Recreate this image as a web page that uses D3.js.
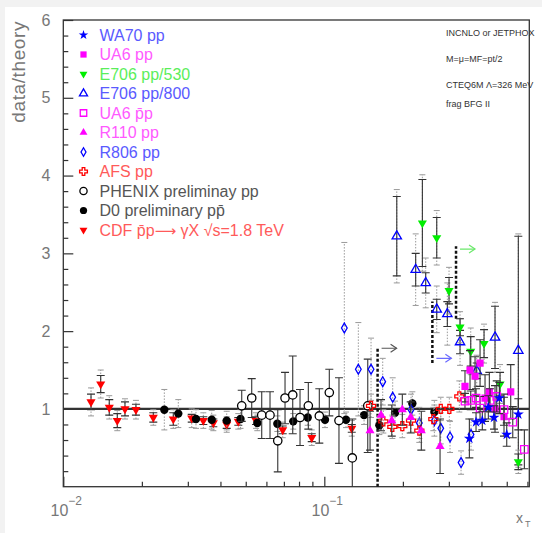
<!DOCTYPE html>
<html>
<head>
<meta charset="utf-8">
<script src="https://cdn.jsdelivr.net/npm/d3@7/dist/d3.min.js"></script>
<style>
  html, body { margin: 0; padding: 0; background: #f2f2f2; }
  svg { display: block; }
  text { font-family: "Liberation Sans", Arial, sans-serif; }
</style>
</head>
<body>
<svg id="chart" width="542" height="533"></svg>
<script>
// ---- data: data/theory ratio versus x_T ----
const wa70X = [0.3595, 0.3813, 0.4030, 0.4250, 0.4468, 0.4684, 0.4999, 0.5537];
const wa70Y = [0.62, 0.83, 0.85, 1.02, 0.89, 1.14, 0.67, 0.93];
const wa70Err = [0.25, 0.12, 0.12, 0.15, 0.15, 0.2, 0.15, 0.2];

const ua6X = [0.3459, 0.3616, 0.3780, 0.3951, 0.4128, 0.4288, 0.4508, 0.4880, 0.5178];
const ua6Y = [1.29, 1.50, 1.42, 1.59, 1.14, 1.22, 1.00, 0.90, 1.22];
const ua6Err = [0.2, 0.25, 0.25, 0.3, 0.3, 0.25, 0.3, 0.25, 0.35];

const e530X = [0.2375, 0.2696, 0.3005, 0.3311, 0.3639, 0.4092, 0.4713, 0.5537];
const e530Y = [3.39, 3.20, 2.52, 2.05, 1.74, 1.84, 1.32, 0.32];
const e530Stat = [0.56, 0.26, 0.17, 0.11, 0.19, 0.18, 0.15, 0.1];
const e530Sys = [0.62, 0.35, 0.3, 0.2, 0.3, 0.25, 0.25, 0.15];

const e800X = [0.1895, 0.2239, 0.2446, 0.2696, 0.2960, 0.3311, 0.3836, 0.4508, 0.5537];
const e800Y = [3.22, 2.79, 2.62, 2.28, 2.22, 1.86, 1.49, 1.92, 1.75];
const e800Stat = [0.51, 0.21, 0.13, 0.13, 0.16, 0.15, 0.1, 0.4, 1.47];
const e800Sys = [0.6, 0.46, 0.32, 0.3, 0.4, 0.3, 0.2, 0.45, 1.5];

const ua6bX = [0.3459, 0.3639, 0.3813, 0.3951, 0.4315, 0.4577, 0.4880, 0.5272, 0.5840];
const ua6bY = [1.10, 1.11, 1.14, 1.01, 1.11, 1.16, 0.99, 0.83, 0.48];
const ua6bErr = [0.1, 0.12, 0.12, 0.15, 0.15, 0.2, 0.2, 0.2, 0.25];

const r110X = [0.1497, 0.1649, 0.1813, 0.1990, 0.2143, 0.2353, 0.2776];
const r110Y = [0.72, 0.92, 0.85, 0.99, 0.89, 0.72, 0.52];
const r110Err = [0.25, 0.2, 0.2, 0.2, 0.2, 0.25, 0.35];

const r806X = [0.1193, 0.1350, 0.1510, 0.1674, 0.1828, 0.2149, 0.2312, 0.2640, 0.2793, 0.3031, 0.3341, 0.3648];
const r806Y = [2.04, 1.51, 1.51, 1.35, 1.15, 0.99, 0.82, 0.85, 0.75, 0.64, 0.31, 0.67];
const r806Err = [1.1, 0.6, 0.4, 0.3, 0.25, 0.2, 0.2, 0.2, 0.2, 0.2, 0.15, 0.2];

const afsX = [0.1510, 0.1683, 0.1822, 0.1990, 0.2149, 0.2312, 0.2616, 0.2793, 0.3013, 0.3290];
const afsY = [1.04, 0.84, 0.77, 0.78, 0.85, 0.72, 0.87, 1.00, 1.00, 1.16];
const afsErr = [0.15, 0.15, 0.15, 0.15, 0.15, 0.15, 0.15, 0.15, 0.15, 0.2];

const phenixX = [0.04826, 0.05271, 0.05757, 0.06194, 0.06632, 0.07071, 0.07568, 0.08071, 0.08684, 0.09568, 0.1045, 0.1138, 0.1280, 0.1467];
const phenixY = [1.04, 1.14, 0.92, 0.92, 0.59, 1.14, 1.18, 0.89, 1.04, 0.91, 1.21, 0.85, 0.37, 1.04];
const phenixErr = [0.2, 0.25, 0.3, 0.3, 0.4, 0.33, 0.5, 0.36, 0.3, 0.35, 0.3, 0.55, 0.5, 0.6];

const d0X = [0.02438, 0.02758, 0.03224, 0.03704, 0.04227, 0.04775, 0.05537, 0.06607, 0.07604, 0.08638, 0.1006, 0.1211, 0.1420, 0.1625, 0.1866, 0.2174, 0.2640];
const d0Y = [0.99, 0.94, 0.87, 0.86, 0.85, 0.87, 0.82, 0.81, 0.84, 0.89, 0.86, 0.86, 0.92, 0.79, 0.95, 1.07, 0.96];
const d0Err = [0.26, 0.18, 0.12, 0.12, 0.12, 0.12, 0.1, 0.1, 0.1, 0.1, 0.1, 0.1, 0.12, 0.12, 0.15, 0.15, 0.15];

const cdfX = [0.01277, 0.01391, 0.0150, 0.0161, 0.01723, 0.01898, 0.02212, 0.02639, 0.03105, 0.03439, 0.03756, 0.04227, 0.04682, 0.05474, 0.06928, 0.0895, 0.1274];
const cdfY = [1.09, 1.32, 1.02, 0.85, 1.00, 0.99, 0.89, 0.87, 0.88, 0.85, 0.82, 0.80, 0.84, 0.85, 0.73, 0.63, 0.75];
const cdfStat = [0.1, 0.11, 0.1, 0.09, 0.09, 0.07, 0.06, 0.08, 0.05, 0.05, 0.05, 0.05, 0.05, 0.05, 0.05, 0.05, 0.05];
const cdfSys = [0.18, 0.18, 0.15, 0.13, 0.13, 0.12, 0.1, 0.12, 0.12, 0.1, 0.1, 0.1, 0.1, 0.1, 0.1, 0.1, 0.1];

// kinematic cut markers (x_T position, vertical extent, arrow height)
const cutX = [0.160, 0.2594, 0.3196];
const cutLow = [0, 1.59, 2.16];
const cutHigh = [1.78, 2.38, 3.09];
const cutArrowY = [1.78, 1.65, 3.055];

const legendLabels = ["WA70 pp", "UA6 pp", "E706 pp/530", "E706 pp/800", "UA6 p\u0304p",
  "R110 pp", "R806 pp", "AFS pp", "PHENIX preliminay pp", "D0 preliminary pp\u0304", "CDF p\u0304p"];
const cdfTail = " \u03b3X \u221as=1.8 TeV";
const infoLines = ["INCNLO or JETPHOX", "M=\u03bc=MF=pt/2", "CTEQ6M \u039b=326 MeV", "frag  BFG II"];
const yTicks = [1, 2, 3, 4, 5, 6];

// ---- layout ----
const svg = d3.select("#chart");
const L = 63.3, R = 529.3, T = 20, B = 486.7;
const x = d3.scaleLog().domain([0.01, 0.61]).range([L, R]);
const y = d3.scaleLinear().domain([0, 6]).range([B, T]);

svg.append("rect").attr("x", 5).attr("y", 7).attr("width", 537).attr("height", 526).attr("fill", "#fff");

svg.append("clipPath").attr("id", "plotclip")
  .append("rect").attr("x", L).attr("y", T).attr("width", R - L).attr("height", B - T);

// axes with inward ticks
const minorX = [];
for (let k = 2; k <= 9; k++) minorX.push(0.01 * k);
for (let k = 2; k <= 6; k++) minorX.push(0.1 * k);
svg.append("g").attr("transform", `translate(0,${B})`)
  .call(d3.axisBottom(x).tickValues(minorX).tickSize(-5).tickFormat(""))
  .call(g => g.select(".domain").remove());
svg.append("g").attr("transform", `translate(0,${B})`)
  .call(d3.axisBottom(x).tickValues([0.01, 0.1]).tickSize(-10).tickFormat(""))
  .call(g => g.select(".domain").remove());

const minorY = d3.range(0, 6.001, 0.2).filter(v => Math.abs(v - Math.round(v)) > 1e-6);
svg.append("g").attr("transform", `translate(${L},0)`)
  .call(d3.axisLeft(y).tickValues(minorY).tickSize(-5).tickFormat(""))
  .call(g => g.select(".domain").remove());
svg.append("g").attr("transform", `translate(${L},0)`)
  .call(d3.axisLeft(y).tickValues(yTicks).tickSize(-10).tickPadding(13).tickFormat(d3.format("d")))
  .call(g => g.select(".domain").remove())
  .call(g => g.selectAll("text").attr("font-size", 16).attr("fill", "#777")
    .attr("font-family", "Liberation Sans, Arial, sans-serif"));
svg.selectAll(".tick line").attr("stroke", "#333").attr("stroke-width", 1.2);

// frame
svg.append("rect").attr("x", L).attr("y", T).attr("width", R - L).attr("height", B - T)
  .attr("fill", "none").attr("stroke", "#333").attr("stroke-width", 1.3);

// x tick labels 10^-2, 10^-1
[[0.01, "\u22122"], [0.1, "\u22121"]].forEach(([v, e]) => {
  svg.append("text").attr("x", x(v) + 5).attr("y", 516).attr("fill", "#777")
    .attr("font-size", 16).attr("text-anchor", "end").text("10");
  svg.append("text").attr("x", x(v) + 5).attr("y", 505).attr("fill", "#777")
    .attr("font-size", 12).text(e);
});
// axis titles
svg.append("text").attr("x", 516).attr("y", 523).attr("fill", "#777").attr("font-size", 14).text("x");
svg.append("text").attr("x", 525).attr("y", 527).attr("fill", "#777").attr("font-size", 9).text("T");
svg.append("text").attr("transform", "translate(25,21) rotate(-90)").attr("text-anchor", "end")
  .attr("fill", "#777").attr("font-size", 19).attr("letter-spacing", 0.6).text("data/theory");

// info text
infoLines.forEach((s, i) => {
  svg.append("text").attr("x", 446).attr("y", [36, 62, 88, 107][i]).attr("fill", "#333")
    .attr("font-size", 9).text(s);
});

const plot = svg.append("g").attr("clip-path", "url(#plotclip)");

// reference line at ratio = 1
plot.append("line").attr("x1", L).attr("x2", R).attr("y1", y(1)).attr("y2", y(1))
  .attr("stroke", "#333").attr("stroke-width", 2.2);

// cut markers
const cutColors = ["#555", "#6a6aff", "#6be86b"];
cutX.forEach((c, i) => {
  const px = x(c);
  plot.append("line").attr("x1", px).attr("x2", px).attr("y1", y(cutLow[i])).attr("y2", y(cutHigh[i]))
    .attr("stroke", "#111").attr("stroke-width", 2.5).attr("stroke-dasharray", "3,2");
  const ay = y(cutArrowY[i]);
  const g = plot.append("g").attr("stroke", cutColors[i]).attr("stroke-width", 1.2).attr("fill", "none");
  g.append("line").attr("x1", px + 4).attr("x2", px + 19).attr("y1", ay).attr("y2", ay);
  g.append("path").attr("d", `M${px + 13},${ay - 4}L${px + 19},${ay}L${px + 13},${ay + 4}`);
});

// error bars: dotted (outer) and solid with caps (inner)
function dottedBars(xs, ys, errs) {
  xs.forEach((xv, i) => {
    const px = x(xv), y1 = y(ys[i] - errs[i]), y2 = y(ys[i] + errs[i]);
    const g = plot.append("g").attr("stroke", "#999").attr("stroke-width", 1);
    g.append("line").attr("x1", px).attr("x2", px).attr("y1", y1).attr("y2", y2).attr("stroke-dasharray", "1.5,1.5");
    g.append("line").attr("x1", px - 3).attr("x2", px + 3).attr("y1", y1).attr("y2", y1);
    g.append("line").attr("x1", px - 3).attr("x2", px + 3).attr("y1", y2).attr("y2", y2);
  });
}
function solidBars(xs, ys, errs) {
  xs.forEach((xv, i) => {
    const px = x(xv), y1 = y(ys[i] - errs[i]), y2 = y(ys[i] + errs[i]);
    const g = plot.append("g").attr("stroke", "#333").attr("stroke-width", 1.1);
    g.append("line").attr("x1", px).attr("x2", px).attr("y1", y1).attr("y2", y2);
    g.append("line").attr("x1", px - 4).attr("x2", px + 4).attr("y1", y1).attr("y2", y1);
    g.append("line").attr("x1", px - 4).attr("x2", px + 4).attr("y1", y2).attr("y2", y2);
  });
}

// marker styles
const styles = {
  wa70: { type: d3.symbolStar, size: 38, fill: "#0000ff", stroke: "none", rot: 0 },
  ua6: { type: d3.symbolSquare, size: 52, fill: "#ff00ff", stroke: "none", rot: 0 },
  e530: { type: d3.symbolTriangle, size: 36, fill: "#00ee00", stroke: "none", rot: 180 },
  e800: { type: d3.symbolTriangle, size: 38, fill: "none", stroke: "#0000ff", rot: 0 },
  ua6b: { type: d3.symbolSquare, size: 56, fill: "none", stroke: "#ff00ff", rot: 0 },
  r110: { type: d3.symbolTriangle, size: 36, fill: "#ff00ff", stroke: "none", rot: 0 },
  r806: { type: d3.symbolDiamond, size: 28, fill: "none", stroke: "#0000ff", rot: 0 },
  afs: { type: d3.symbolCross, size: 45, fill: "none", stroke: "#ff0000", rot: 0 },
  phenix: { type: d3.symbolCircle, size: 55, fill: "#fff", stroke: "#000", rot: 0 },
  d0: { type: d3.symbolCircle, size: 55, fill: "#000", stroke: "none", rot: 0 },
  cdf: { type: d3.symbolTriangle, size: 36, fill: "#ff0000", stroke: "none", rot: 180 }
};
function drawMarker(parent, st, px, py, scale) {
  parent.append("path").attr("d", d3.symbol().type(st.type).size(st.size * (scale || 1))())
    .attr("transform", `translate(${px},${py}) rotate(${st.rot})`)
    .attr("fill", st.fill).attr("stroke", st.stroke).attr("stroke-width", 1.3);
}
function markers(xs, ys, st) {
  xs.forEach((xv, i) => drawMarker(plot, st, x(xv), y(ys[i])));
}

// draw each data set
dottedBars(cdfX, cdfY, cdfSys); solidBars(cdfX, cdfY, cdfStat); markers(cdfX, cdfY, styles.cdf);
dottedBars(d0X, d0Y, d0Err); markers(d0X, d0Y, styles.d0);
solidBars(phenixX, phenixY, phenixErr); markers(phenixX, phenixY, styles.phenix);
dottedBars(r806X, r806Y, r806Err); markers(r806X, r806Y, styles.r806);
dottedBars(afsX, afsY, afsErr); markers(afsX, afsY, styles.afs);
solidBars(r110X, r110Y, r110Err); markers(r110X, r110Y, styles.r110);
dottedBars(e800X, e800Y, e800Sys); solidBars(e800X, e800Y, e800Stat); markers(e800X, e800Y, styles.e800);
dottedBars(e530X, e530Y, e530Sys); solidBars(e530X, e530Y, e530Stat); markers(e530X, e530Y, styles.e530);
solidBars(ua6X, ua6Y, ua6Err); markers(ua6X, ua6Y, styles.ua6);
solidBars(ua6bX, ua6bY, ua6bErr); markers(ua6bX, ua6bY, styles.ua6b);
solidBars(wa70X, wa70Y, wa70Err); markers(wa70X, wa70Y, styles.wa70);

// legend
const legendKeys = ["wa70", "ua6", "e530", "e800", "ua6b", "r110", "r806", "afs", "phenix", "d0", "cdf"];
const legendColors = ["#5a5aff", "#ff5aff", "#5aee5a", "#5a5aff", "#ff5aff", "#ff5aff", "#5a5aff",
  "#ff5a5a", "#555", "#555", "#ff5a5a"];
legendKeys.forEach((k, i) => {
  const ly = 35 + i * 19.5;
  drawMarker(svg, styles[k], 83.5, ly, 0.75);
  const t = svg.append("text").attr("x", 99.5).attr("y", ly).attr("dy", "0.36em")
    .attr("font-size", 16).attr("fill", legendColors[i]).text(legendLabels[i]);
  if (k === "cdf") {
    t.append("tspan").attr("font-family", "DejaVu Sans").attr("font-size", 15).text("\u27f6");
    t.append("tspan").text(cdfTail);
  }
});
</script>
</body>
</html>
